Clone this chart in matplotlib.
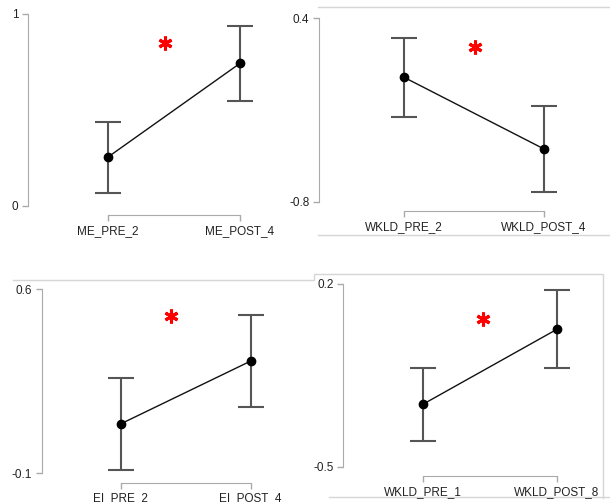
import matplotlib.pyplot as plt

plt.rcParams['font.family'] = ['Liberation Sans', 'DejaVu Sans']

W, H, DPI = 610, 504, 100

# panel data: group labels, means, error-bar bounds, y ticks, star position
me_labels = ['ME_PRE_2', 'ME_POST_4']
me_mean = [0.255, 0.743]
me_low = [0.068, 0.548]
me_high = [0.438, 0.939]
me_ticks = [0, 1]
me_star = (1.43, 0.85)

wk4_labels = ['WKLD_PRE_2', 'WKLD_POST_4']
wk4_mean = [0.014, -0.455]
wk4_low = [-0.244, -0.738]
wk4_high = [0.273, -0.172]
wk4_ticks = [-0.8, 0.4]
wk4_star = (1.51, 0.214)

ei_labels = ['EI_PRE_2', 'EI_POST_4']
ei_mean = [0.088, 0.327]
ei_low = [-0.089, 0.153]
ei_high = [0.261, 0.501]
ei_ticks = [-0.1, 0.6]
ei_star = (1.39, 0.50)

wk8_labels = ['WKLD_PRE_1', 'WKLD_POST_8']
wk8_mean = [-0.26, 0.026]
wk8_low = [-0.402, -0.123]
wk8_high = [-0.121, 0.176]
wk8_ticks = [-0.5, 0.2]
wk8_star = (1.45, 0.066)

fig = plt.figure(figsize=(W / DPI, H / DPI), dpi=DPI)

# light grey frame lines left over from the screenshot collage
bg = fig.add_axes([0, 0, 1, 1], zorder=-1)
bg.set_xlim(0, W)
bg.set_ylim(H, 0)
bg.axis('off')
frame = '#d6d6d6'
bg.plot([318, 610], [7, 7], color=frame, lw=1)
bg.plot([318, 610], [235, 235], color=frame, lw=1)
bg.plot([13, 314, 314, 603, 603], [280, 280, 274, 274, 498], color=frame, lw=1)
bg.plot([329, 610], [497, 497], color=frame, lw=1)


def panel(yax, ytop, ybot, xaxis, x1, x2, labels, mean, low, high, ticks, star):
    # axes box in pixels: left edge = y axis, top/bottom = y tick ends
    right = x2 + 40
    ax = fig.add_axes([yax / W, 1 - ybot / H, (right - yax) / W, (ybot - ytop) / H])
    scale = (x2 - x1)
    ax.set_xlim(1 - (x1 - yax) / scale, 2 + (right - x2) / scale)
    ax.set_ylim(ticks[0], ticks[1])
    ax.patch.set_alpha(0)

    xs = [1, 2]
    err = [[m - l for m, l in zip(mean, low)], [h - m for m, h in zip(mean, high)]]
    ax.errorbar(xs, mean, yerr=err, fmt='none', ecolor='#555555', elinewidth=1.5,
                capsize=9.5, capthick=1.5, zorder=2)
    ax.plot(xs, mean, color='#111111', lw=1.0, marker='o', ms=6, mfc='black',
            mec='black', zorder=3)
    ax.plot(*star, marker=(6, 2, 0), ms=10, mec='red', mew=2.2, ls='none', zorder=4)

    for s in ['top', 'right']:
        ax.spines[s].set_visible(False)
    ax.spines['left'].set_color('#aaaaaa')
    ax.spines['bottom'].set_color('#aaaaaa')
    ax.spines['bottom'].set_position(('outward', (xaxis - ybot) * 72 / DPI))
    ax.spines['bottom'].set_bounds(1, 2)
    ax.set_xticks(xs)
    ax.set_xticklabels(labels)
    ax.set_yticks(ticks)
    ax.set_yticklabels(['{:g}'.format(t) for t in ticks])
    ax.tick_params(colors='#aaaaaa', labelcolor='#222222', labelsize=8.5,
                   length=4, width=1, pad=3)
    return ax


panel(28, 14, 206, 215, 108, 240, me_labels, me_mean, me_low, me_high, me_ticks, me_star)
panel(319, 18.3, 201.7, 211, 404, 544, wk4_labels, wk4_mean, wk4_low, wk4_high, wk4_ticks, wk4_star)
panel(42, 289.3, 473.3, 482.7, 120.7, 250.7, ei_labels, ei_mean, ei_low, ei_high, ei_ticks, ei_star)
panel(343.3, 284, 466.7, 476, 423.3, 556.7, wk8_labels, wk8_mean, wk8_low, wk8_high, wk8_ticks, wk8_star)

fig.savefig('out.png', dpi=DPI)
